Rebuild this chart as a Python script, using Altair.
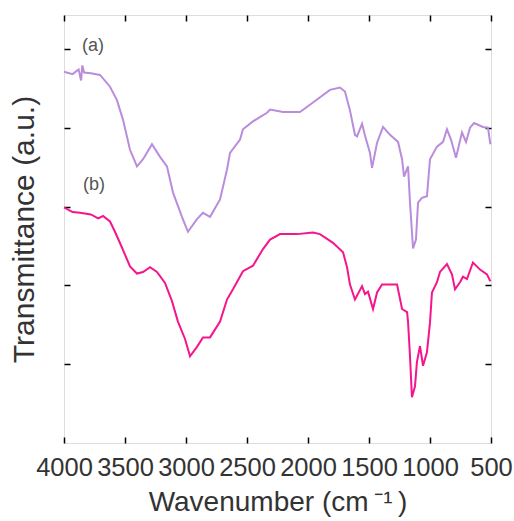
import altair as alt
import pandas as pd

# Spectrum (a)
wn_a = [4000, 3930, 3880, 3860, 3850, 3835, 3780, 3705, 3623, 3566, 3516, 3459, 3402, 3352, 3279,
        3213, 3156, 3107, 3033, 2984, 2910, 2861, 2803, 2721, 2664, 2639, 2557, 2533,
        2451, 2336, 2311, 2205, 2066, 1959, 1820, 1738, 1697, 1656, 1615, 1598, 1557,
        1533, 1492, 1475, 1434, 1385, 1328, 1262, 1229, 1213, 1180, 1164, 1139, 1115,
        1098, 1066, 1025, 1000, 943, 893, 861, 828, 787, 738, 705, 672, 639, 566, 525, 505]
t_a = [4.71, 4.68, 4.74, 4.60, 4.79, 4.70, 4.69, 4.67, 4.52, 4.35, 4.10, 3.72, 3.51, 3.60, 3.79,
       3.63, 3.51, 3.18, 2.87, 2.68, 2.84, 2.92, 2.87, 3.09, 3.47, 3.68, 3.85, 3.98,
       4.08, 4.19, 4.23, 4.20, 4.20, 4.32, 4.48, 4.51, 4.46, 4.22, 3.91, 3.89, 4.05,
       3.90, 3.68, 3.49, 3.81, 4.01, 3.91, 3.82, 3.60, 3.38, 3.51, 3.05, 2.47, 2.58,
       3.05, 3.11, 3.13, 3.60, 3.76, 3.82, 3.98, 3.85, 3.62, 3.94, 3.82, 4.00, 4.06, 4.01, 4.00, 3.79]

# Spectrum (b)
wn_b = [4000, 3930, 3869, 3780, 3720, 3680, 3623, 3582, 3525, 3459, 3402, 3352, 3295, 3238,
        3172, 3115, 3066, 3008, 2967, 2910, 2861, 2803, 2721, 2664, 2615, 2533, 2451,
        2369, 2311, 2229, 2090, 1959, 1902, 1795, 1713, 1680, 1656, 1615, 1557, 1533,
        1508, 1467, 1434, 1393, 1270, 1229, 1188, 1180, 1164, 1148, 1123, 1107, 1082,
        1057, 1025, 1000, 984, 943, 918, 861, 820, 795, 754, 730, 697, 648, 590, 533, 505]
t_b = [2.99, 2.93, 2.92, 2.90, 2.85, 2.88, 2.81, 2.68, 2.48, 2.24, 2.15, 2.17, 2.23, 2.17,
       2.03, 1.80, 1.54, 1.32, 1.10, 1.22, 1.34, 1.34, 1.54, 1.82, 1.95, 2.18, 2.25,
       2.46, 2.58, 2.65, 2.65, 2.67, 2.65, 2.54, 2.42, 2.23, 2.01, 1.82, 1.99, 1.89,
       1.92, 1.70, 1.91, 2.01, 2.01, 1.70, 1.66, 1.54, 1.10, 0.58, 0.72, 1.03, 1.23,
       0.98, 1.15, 1.53, 1.91, 2.04, 2.17, 2.27, 2.14, 1.95, 2.04, 2.11, 2.08, 2.29, 2.20, 2.14, 2.05]

labels = ["(a)", "(b)"]
label_wn = [3762, 3754]
label_t = [5.04, 3.27]

x_ticks = [4000, 3500, 3000, 2500, 2000, 1500, 1000, 500]
y_ticks = [1, 2, 3, 4, 5]

W, H = 427, 428
FONT = "Liberation Sans"

df_a = pd.DataFrame({"wn": wn_a, "t": t_a})
df_b = pd.DataFrame({"wn": wn_b, "t": t_b})
df_l = pd.DataFrame({"wn": label_wn, "t": label_t, "lab": labels})

xs = alt.Scale(domain=[4000, 500], nice=False, zero=False)
ys = alt.Scale(domain=[0, 5.43], nice=False, zero=False)

# Layer 1: spectrum (a) + labelled axes
xa1 = alt.Axis(orient="bottom", values=x_ticks, format="d", tickSize=0, domain=False, grid=False,
               title="Wavenumber (cm\u2009\u207b\u00b9\u2009)", labelFont=FONT, labelFontSize=25.5,
               labelColor="#333333", labelPadding=12, titleFont=FONT, titleFontSize=28,
               titleFontWeight="normal", titleColor="#333333", titlePadding=8,
               labelOverlap=False, labelFlush=False)
ya1 = alt.Axis(orient="left", values=y_ticks, tickSize=0, labels=False, domain=False,
               grid=False, title="Transmittance (a.u.)", titleFont=FONT, titleFontSize=30,
               titleFontWeight="normal", titleColor="#333333", titlePadding=24)

line_a = alt.Chart(df_a).mark_line(color="#b98ddb", strokeWidth=2).encode(
    x=alt.X("wn:Q", scale=xs, axis=xa1),
    y=alt.Y("t:Q", scale=ys, axis=ya1),
)

# Layer 2: spectrum (b) + inward ticks at bottom / left
xa2 = alt.Axis(orient="top", offset=-H, values=x_ticks, tickSize=6, tickWidth=1.5,
               tickColor="black", labels=False, domain=False, grid=False, title=None)
ya2 = alt.Axis(orient="right", offset=-W, values=y_ticks, tickSize=6, tickWidth=1.5,
               tickColor="black", labels=False, domain=False, grid=False, title=None)
line_b = alt.Chart(df_b).mark_line(color="#f5158c", strokeWidth=2).encode(
    x=alt.X("wn:Q", scale=xs, axis=xa2),
    y=alt.Y("t:Q", scale=ys, axis=ya2),
)

# Layer 3: labels + inward ticks at top / right
xa3 = alt.Axis(orient="bottom", offset=-H, values=x_ticks, tickSize=6, tickWidth=1.5,
               tickColor="black", labels=False, domain=False, grid=False, title=None)
ya3 = alt.Axis(orient="left", offset=-W, values=y_ticks, tickSize=6, tickWidth=1.5,
               tickColor="black", labels=False, domain=False, grid=False, title=None)
text = alt.Chart(df_l).mark_text(font=FONT, fontSize=18, color="#555555", align="center",
                                 baseline="middle").encode(
    x=alt.X("wn:Q", scale=xs, axis=xa3),
    y=alt.Y("t:Q", scale=ys, axis=ya3),
    text="lab:N",
)

chart = alt.layer(line_a, line_b, text).resolve_axis(x="independent", y="independent").properties(
    width=W, height=H,
    autosize=alt.AutoSizeParams(type="none"),
    padding={"left": 64, "top": 15, "right": 23, "bottom": 78},
).configure_view(stroke="black", strokeWidth=1.5).configure(background="white")

chart.save("out.html", embed_options={"renderer": "svg", "actions": False})
